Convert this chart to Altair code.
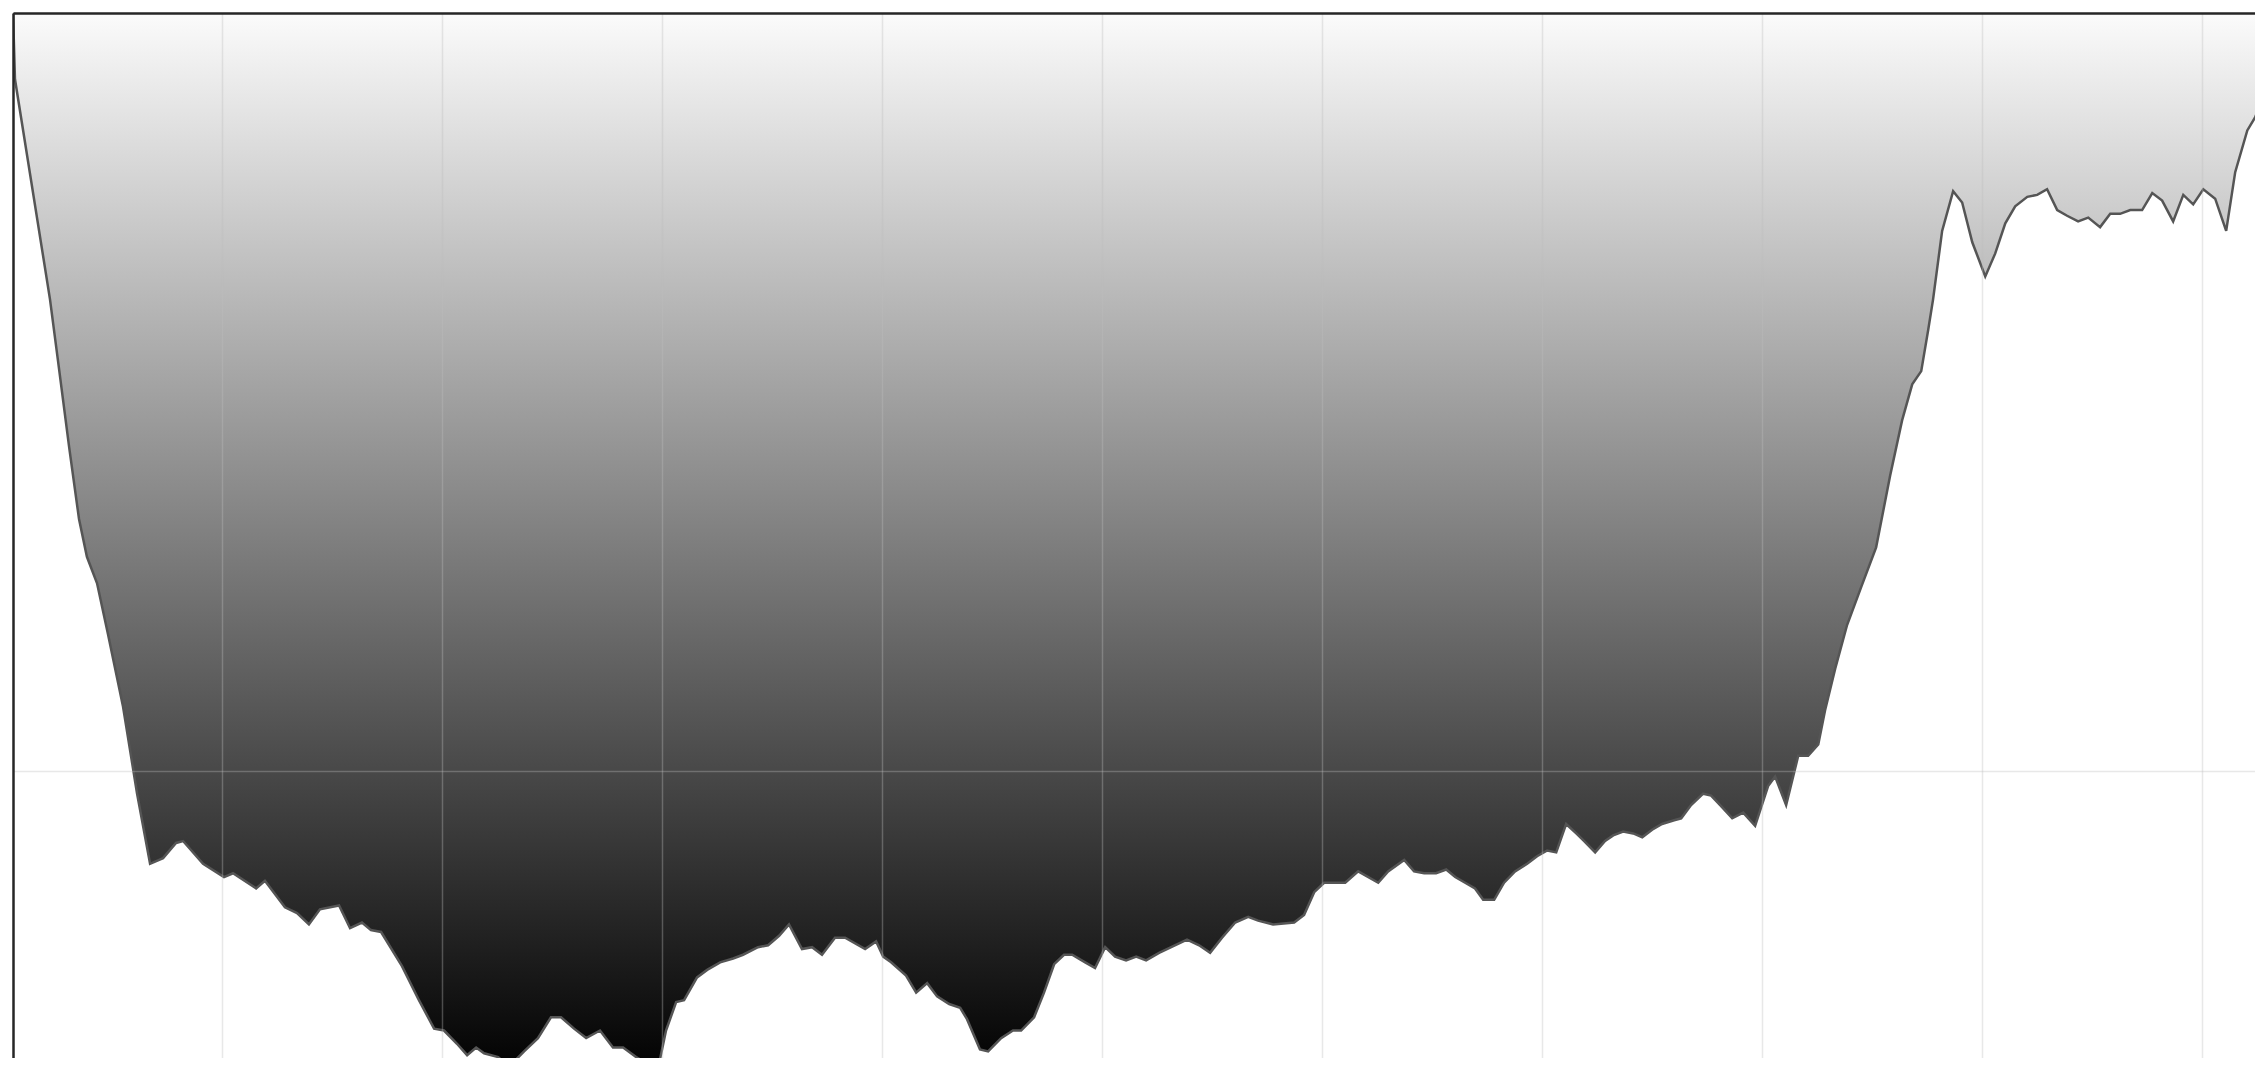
import altair as alt
import pandas as pd

# Time (decimal years) and drawdown (%)
years = [
    2000.050, 2000.059, 2000.218, 2000.255, 2000.305, 2000.350, 2000.386, 2000.432, 2000.482, 2000.550,
    2000.614, 2000.673, 2000.732, 2000.791, 2000.823, 2000.914, 2001.009, 2001.050, 2001.155, 2001.195,
    2001.286, 2001.341, 2001.395, 2001.445, 2001.532, 2001.582, 2001.636, 2001.677, 2001.723, 2001.818,
    2001.895, 2001.964, 2002.009, 2002.068, 2002.114, 2002.155, 2002.191, 2002.255, 2002.305, 2002.373,
    2002.436, 2002.495, 2002.541, 2002.600, 2002.655, 2002.718, 2002.777, 2002.823, 2002.882, 2002.927,
    2002.973, 2003.018, 2003.064, 2003.100, 2003.159, 2003.205, 2003.264, 2003.323, 2003.368, 2003.436,
    2003.482, 2003.532, 2003.577, 2003.636, 2003.682, 2003.727, 2003.786, 2003.832, 2003.923, 2003.973,
    2004.005, 2004.041, 2004.109, 2004.155, 2004.205, 2004.250, 2004.305, 2004.355, 2004.386, 2004.445,
    2004.482, 2004.541, 2004.595, 2004.632, 2004.691, 2004.736, 2004.782, 2004.827, 2004.864, 2004.923,
    2004.968, 2005.014, 2005.059, 2005.109, 2005.155, 2005.200, 2005.259, 2005.314, 2005.386, 2005.441,
    2005.491, 2005.545, 2005.605, 2005.664, 2005.709, 2005.777, 2005.873, 2005.918, 2005.964, 2006.009,
    2006.105, 2006.164, 2006.255, 2006.300, 2006.373, 2006.418, 2006.464, 2006.518, 2006.564, 2006.605,
    2006.650, 2006.695, 2006.732, 2006.782, 2006.827, 2006.877, 2006.932, 2006.977, 2007.023, 2007.064,
    2007.109, 2007.155, 2007.191, 2007.241, 2007.286, 2007.323, 2007.368, 2007.414, 2007.455, 2007.500,
    2007.545, 2007.600, 2007.632, 2007.677, 2007.732, 2007.768, 2007.809, 2007.864, 2007.914, 2007.968,
    2008.027, 2008.059, 2008.109, 2008.164, 2008.209, 2008.255, 2008.286, 2008.332, 2008.386, 2008.450,
    2008.518, 2008.582, 2008.636, 2008.682, 2008.723, 2008.755, 2008.777, 2008.818, 2008.868, 2008.909,
    2008.955, 2009.014, 2009.059, 2009.105, 2009.150, 2009.205, 2009.250, 2009.295, 2009.341, 2009.386,
    2009.436, 2009.482, 2009.536, 2009.582, 2009.627, 2009.673, 2009.727, 2009.773, 2009.818, 2009.868,
    2009.914, 2009.959, 2010.005, 2010.059, 2010.109, 2010.150, 2010.205, 2010.241, 2010.277,
]
drawdown = [
    0.0, -3.5, -15.1, -18.4, -22.9, -26.7, -28.7, -30.1, -32.8, -36.6,
    -41.2, -44.9, -44.6, -43.8, -43.7, -44.9, -45.6, -45.4, -46.2, -45.8,
    -47.2, -47.5, -48.1, -47.3, -47.1, -48.3, -48.0, -48.4, -48.5, -50.3,
    -52.1, -53.6, -53.7, -54.4, -55.0, -54.6, -54.9, -55.1, -55.6, -54.8,
    -54.1, -53.0, -53.0, -53.6, -54.1, -53.7, -54.6, -54.6, -55.1, -55.4,
    -56.2, -53.7, -52.2, -52.1, -50.9, -50.5, -50.1, -49.9, -49.7, -49.3,
    -49.2, -48.7, -48.1, -49.4, -49.3, -49.7, -48.8, -48.8, -49.4, -49.0,
    -49.8, -50.1, -50.8, -51.7, -51.2, -51.9, -52.3, -52.5, -53.1, -54.7,
    -54.8, -54.1, -53.7, -53.7, -53.0, -51.7, -50.2, -49.7, -49.7, -50.1,
    -50.4, -49.3, -49.8, -50.0, -49.8, -50.0, -49.6, -49.3, -48.9, -49.2,
    -49.6, -48.8, -48.0, -47.7, -47.9, -48.1, -48.0, -47.6, -46.4, -45.9,
    -45.9, -45.3, -45.9, -45.3, -44.7, -45.3, -45.4, -45.4, -45.2, -45.6,
    -45.9, -46.2, -46.8, -46.8, -45.9, -45.3, -44.9, -44.5, -44.2, -44.3,
    -42.8, -43.3, -43.7, -44.3, -43.7, -43.4, -43.2, -43.3, -43.5, -43.1,
    -42.8, -42.6, -42.5, -41.8, -41.2, -41.3, -41.8, -42.5, -42.2, -42.9,
    -40.8, -40.3, -41.8, -39.2, -39.2, -38.6, -36.8, -34.6, -32.3, -30.3,
    -28.2, -24.4, -21.5, -19.6, -18.9, -16.7, -15.1, -11.5, -9.4, -10.0,
    -12.1, -13.9, -12.7, -11.1, -10.2, -9.7, -9.6, -9.3, -10.4, -10.7,
    -11.0, -10.8, -11.3, -10.6, -10.6, -10.4, -10.4, -9.5, -9.9, -11.0,
    -9.6, -10.1, -9.3, -9.8, -11.5, -8.4, -6.2, -5.5, -4.4,
]
grid_years = [2001, 2002, 2003, 2004, 2005, 2006, 2007, 2008, 2009, 2010]
grid_dd = [-40]

df = pd.DataFrame({"year": years, "drawdown": drawdown})

grid_style = dict(gridColor="#bdbdbd", gridOpacity=0.35, gridWidth=1.5)

x_enc = alt.X(
    "year:Q",
    scale=alt.Scale(domain=[2000.05, 2010.24], nice=False, zero=False),
    axis=alt.Axis(orient="top", values=grid_years, labels=False, ticks=False, title=None,
                  domainColor="#262626", domainWidth=2.5, grid=True, zindex=1, **grid_style),
)
y_enc = alt.Y(
    "drawdown:Q",
    scale=alt.Scale(domain=[-55.15, 0], nice=False, zero=False),
    axis=alt.Axis(orient="left", values=grid_dd, labels=False, ticks=False, title=None,
                  domainColor="#262626", domainWidth=2.5, grid=True, zindex=1, **grid_style),
)

gradient = alt.Gradient(
    gradient="linear",
    stops=[alt.GradientStop(color="#fbfbfb", offset=0),
           alt.GradientStop(color="#000000", offset=1)],
    x1=0, x2=0, y1=0, y2=1,
)

base = alt.Chart(df).encode(x=x_enc, y=y_enc)
area = base.mark_area(clip=True, color=gradient, interpolate="linear")
line = base.mark_line(clip=True, color="#555555", strokeWidth=2.5)

chart = (area + line).properties(
    width=2242,
    height=1045,
    padding={"left": 5, "top": 5, "right": 0, "bottom": 0},
    autosize=alt.AutoSizeParams(type="none"),
).configure_view(stroke=None)

chart.save("out.html", embed_options={"renderer": "svg", "actions": False})
